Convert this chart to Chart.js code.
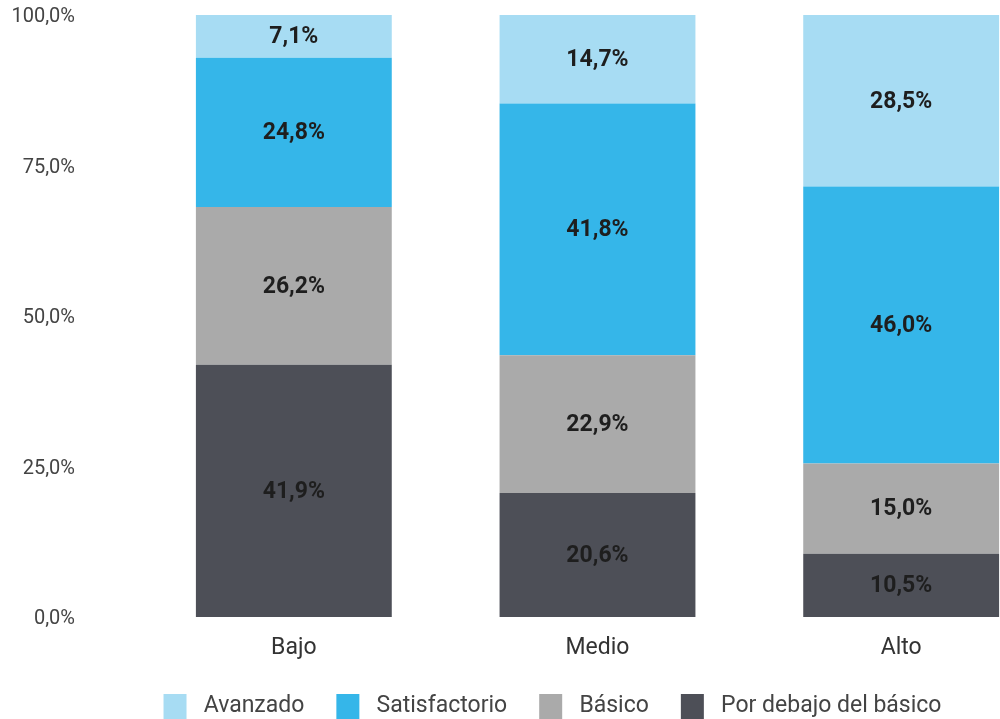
<!DOCTYPE html>
<html lang="es">
<head>
<meta charset="UTF-8">
<title>Niveles de desempeño</title>
<style>
    body, html {
        margin: 0;
        overflow: hidden;
        background: #fff;
        font-family: Roboto, Arial, sans-serif;
    }
    /* lienzo algo mayor que la ventana: la última barra toca el borde */
    .wrap {
        position: relative;
        width: 1105px;
        height: 729px;
    }
</style>
</head>
<body>
<div class="wrap">
    <canvas id="grafico"></canvas>
</div>

<script src="https://cdn.jsdelivr.net/npm/chart.js"></script>
<script>
    // datos
    const categorias = ['Bajo', 'Medio', 'Alto'];
    const porDebajo = [41.9, 20.6, 10.5];
    const basico = [26.2, 22.9, 15.0];
    const satisfactorio = [24.8, 41.8, 46.0];
    const avanzado = [7.1, 14.7, 28.5];
    const marcasY = [0, 25, 50, 75, 100];

    const fmt = v => v.toFixed(1).replace('.', ',') + '%';

    // etiquetas dentro de cada segmento
    const etiquetas = {
        id: 'etiquetas',
        afterDatasetsDraw(chart) {
            const ctx = chart.ctx;
            ctx.save();
            ctx.font = 'bold 23px Roboto';
            ctx.fillStyle = '#1e1e1e';
            ctx.textAlign = 'center';
            ctx.textBaseline = 'middle';
            chart.data.datasets.forEach((ds, i) => {
                chart.getDatasetMeta(i).data.forEach((bar, j) => {
                    ctx.fillText(fmt(ds.data[j]), bar.x, (bar.y + bar.base) / 2 + 1);
                });
            });
            ctx.restore();
        }
    };

    // ejes invisibles que sólo reservan espacio
    const hueco = w => ({
        position: w.pos,
        weight: 0,
        grid: { display: false },
        border: { display: false },
        ticks: { display: false },
        afterFit: s => { s.width = w.ancho; }
    });

    new Chart(document.getElementById('grafico'), {
        type: 'bar',
        data: {
            labels: categorias,
            datasets: [
                { label: 'Por debajo del básico', data: porDebajo, backgroundColor: '#4d4f57' },
                { label: 'Básico', data: basico, backgroundColor: '#aaaaaa' },
                { label: 'Satisfactorio', data: satisfactorio, backgroundColor: '#35b6e9' },
                { label: 'Avanzado', data: avanzado, backgroundColor: '#a7dcf3' }
            ]
        },
        options: {
            responsive: true,
            maintainAspectRatio: false,
            animation: false,
            datasets: {
                bar: { categoryPercentage: 1, barPercentage: 0.645 }
            },
            layout: { padding: { top: 15 } },
            plugins: {
                tooltip: { enabled: false },
                legend: {
                    position: 'bottom',
                    reverse: true,
                    labels: {
                        boxWidth: 23,
                        boxHeight: 25,
                        padding: 32,
                        color: '#444',
                        font: { family: 'Roboto', size: 23 },
                        generateLabels: chart =>
                            Chart.defaults.plugins.legend.labels.generateLabels(chart)
                                .map(l => Object.assign(l, { text: ' ' + l.text }))
                    }
                }
            },
            scales: {
                x: {
                    stacked: true,
                    grid: { display: false, drawTicks: false },
                    border: { display: false },
                    afterFit: s => { s.height = 45; },
                    ticks: {
                        padding: 17,
                        color: '#333',
                        font: { family: 'Roboto', size: 23 }
                    }
                },
                y: {
                    stacked: true,
                    min: 0,
                    max: 100,
                    weight: 1,
                    grid: { display: false, drawTicks: false },
                    border: { display: false },
                    afterBuildTicks: s => { s.ticks = marcasY.map(v => ({ value: v })); },
                    afterFit: s => { s.width = 75; },
                    ticks: {
                        padding: 0,
                        labelOffset: 2,
                        color: '#444',
                        font: { family: 'Roboto', size: 20 },
                        callback: v => fmt(v)
                    }
                },
                izq: hueco({ pos: 'left', ancho: 67 }),
                der: hueco({ pos: 'right', ancho: 52 })
            }
        },
        plugins: [etiquetas]
    });
</script>
</body>
</html>
